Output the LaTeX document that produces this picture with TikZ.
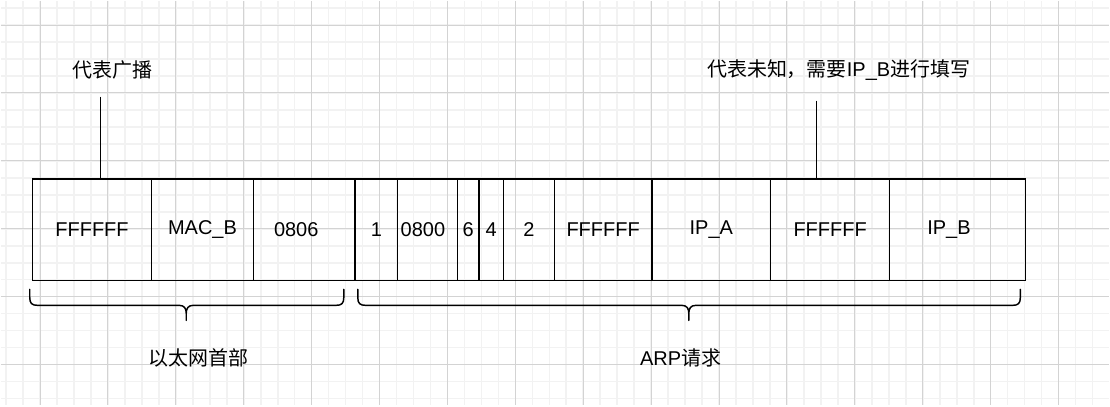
\documentclass[tikz,border=0pt]{standalone}
\usepackage{fontspec}
\setmainfont{Liberation Sans}
\newfontfamily\cjk{Noto Sans CJK SC}
\usetikzlibrary{positioning}
\definecolor{gridmajor}{HTML}{D3D3D3}
\definecolor{gridminor}{HTML}{F2F2F2}
\newcommand{\fieldfont}{\fontsize{15pt}{18pt}\selectfont}
% curly bracket under a group of fields: left x, right x, x of the tip
\newcommand{\fieldbrace}[3]{%
  \draw[brace line] (#1,289) -- (#1,297) .. controls (#1,303) and (#1+2,305) .. (#1+8,305)
    -- (#3-7,305) .. controls (#3-2,305) and (#3,308) .. (#3,313) -- (#3,320)
    (#3,313) .. controls (#3,308) and (#3+2,305) .. (#3+7,305)
    -- (#2-8,305) .. controls (#2-2,305) and (#2,303) .. (#2,297) -- (#2,289);}
\tikzset{
  x=0.75pt, y=-0.75pt, % one unit is one pixel of the screenshot, y runs downwards
  node distance=0pt, % the fields sit flush against each other
  field/.style={draw, line width=1.1pt, outer sep=0pt, inner sep=0pt,
    minimum width=#1*0.75pt, minimum height=76.5pt, font=\fieldfont}, % one field of the frame
  note/.style={inner sep=1pt, font=\fieldfont}, % free text above and below
  lead/.style={line width=1.1pt}, % line from a note to its field
  brace line/.style={line width=1.1pt, line cap=round, line join=round},
}
\begin{document}
\begin{tikzpicture}
    % background grid of the drawing canvas
    \fill[white] (0,0) rectangle (1110,405);
    \foreach \gx in {5.3,22.3,...,1110} \draw[gridminor, line width=1.2pt] (\gx,0) -- (\gx,405);
    \foreach \gy in {7.3,24.3,...,405} \draw[gridminor, line width=1.2pt] (0,\gy) -- (1110,\gy);
    \foreach \gx in {39.3,107.3,...,1110} \draw[gridmajor, line width=0.75pt] (\gx,0) -- (\gx,405);
    \foreach \gy in {24.3,92.3,...,405} \draw[gridmajor, line width=0.75pt] (0,\gy) -- (1110,\gy);
    \useasboundingbox (0,0) rectangle (1110,405);

    % the frame, field by field
    \node[field=119.3, anchor=north west] (dstmac) at (31.7,178.3) {FFFFFF};
    \node[field=102, right=of dstmac] (srcmac) {MAC\_B};
    \node[field=101.7, right=of srcmac] (ethtype) {0806\hspace*{12pt}};
    \node[field=42.7, right=of ethtype] (hwtype) {1};
    \node[field=60, right=of hwtype] (prototype) {0800\hspace*{7pt}};
    \node[field=21.3, right=of prototype] (hwlen) {6};
    \node[field=24.7, right=of hwlen] (protolen) {4};
    \node[field=51, right=of protolen] (opcode) {2};
    \node[field=97.6, right=of opcode] (sendermac) {FFFFFF};
    \node[field=119, right=of sendermac] (senderip) {IP\_A};
    \node[field=119, right=of senderip] (targetmac) {FFFFFF};
    \node[field=136.4, right=of targetmac] (targetip) {IP\_B\hspace*{13pt}};

    % notes with their lead lines
    \node[note] (bcast) at (111.7,69.3) {\cjk 代表广播};
    \coordinate (bcastend) at (99.7,96);
    \draw[lead] (bcastend) -- (bcastend |- dstmac.north);

    \node[note] (unknown) at (839,69.3) {{\cjk 代表未知，需要}IP\_B{\cjk 进行填写}};
    \coordinate (unknownend) at (817,100);
    \draw[lead] (unknownend) -- (unknownend |- targetmac.north);

    % braces for the two parts
    \fieldbrace{29}{343.5}{185.7}
    \fieldbrace{357.5}{1021}{689}
    \node[note] (ethlabel) at (198.3,357.3) {\cjk 以太网首部};
    \node[note] (arplabel) at (680.7,357.3) {ARP{\cjk 请求}};
\end{tikzpicture}
\end{document}
